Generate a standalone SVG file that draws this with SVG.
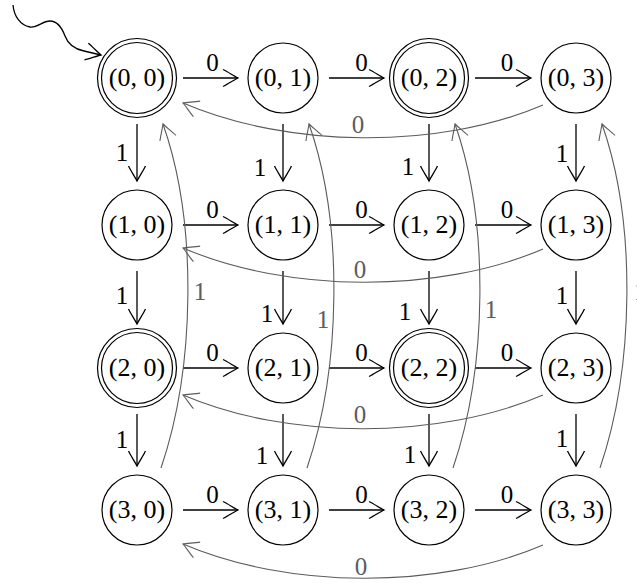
<svg xmlns="http://www.w3.org/2000/svg" width="637" height="583" viewBox="0 0 637 583">
<style>
.st{fill:none;stroke:#000;stroke-width:1.3}
.ring{fill:none;stroke:#000;stroke-width:1.2}
.nt{font-family:"Liberation Serif","Times New Roman",serif;font-size:26px;fill:#000;text-anchor:middle}
.lb{font-family:"Liberation Serif","Times New Roman",serif;font-size:25px;fill:#000;text-anchor:middle}
.gl{font-family:"Liberation Serif","Times New Roman",serif;font-size:25px;fill:#5c5c5c;text-anchor:middle}
.ed{fill:none;stroke:#000;stroke-width:1.3;marker-end:url(#ah)}
.gr{fill:none;stroke:#5c5c5c;stroke-width:1.1;marker-end:url(#ahg)}
</style>
<defs>
<marker id="ah" markerUnits="userSpaceOnUse" orient="auto" viewBox="-18 -10 20 20" refX="0" refY="0" markerWidth="20" markerHeight="20" overflow="visible">
<path d="M-15,-8.5 C-10,-6 -4,-2 0,0 C-4,2 -10,6 -15,8.5" fill="none" stroke="#000" stroke-width="1.3"/>
</marker>
<marker id="ahg" markerUnits="userSpaceOnUse" orient="auto" viewBox="-18 -10 20 20" refX="0" refY="0" markerWidth="20" markerHeight="20" overflow="visible">
<path d="M-15,-8.5 C-10,-6 -4,-2 0,0 C-4,2 -10,6 -15,8.5" fill="none" stroke="#5c5c5c" stroke-width="1.1"/>
</marker>
</defs>

<g id="nodes">
<g id="n00"><circle class="ring" cx="137" cy="78" r="39.5"/><circle class="ring" cx="137" cy="78" r="35.5"/><text class="nt" x="137" y="86">(0, 0)</text></g>
<g id="n01"><circle class="ring" cx="283" cy="78" r="35"/><text class="nt" x="283" y="86">(0, 1)</text></g>
<g id="n02"><circle class="ring" cx="429" cy="78" r="39.5"/><circle class="ring" cx="429" cy="78" r="35.5"/><text class="nt" x="429" y="86">(0, 2)</text></g>
<g id="n03"><circle class="ring" cx="576" cy="78" r="35"/><text class="nt" x="576" y="86">(0, 3)</text></g>

<g id="n10"><circle class="ring" cx="137" cy="225" r="35"/><text class="nt" x="137" y="233">(1, 0)</text></g>
<g id="n11"><circle class="ring" cx="283" cy="225" r="35"/><text class="nt" x="283" y="233">(1, 1)</text></g>
<g id="n12"><circle class="ring" cx="429" cy="225" r="35"/><text class="nt" x="429" y="233">(1, 2)</text></g>
<g id="n13"><circle class="ring" cx="576" cy="225" r="35"/><text class="nt" x="576" y="233">(1, 3)</text></g>

<g id="n20"><circle class="ring" cx="137" cy="368" r="39.5"/><circle class="ring" cx="137" cy="368" r="35.5"/><text class="nt" x="137" y="376">(2, 0)</text></g>
<g id="n21"><circle class="ring" cx="283" cy="368" r="35"/><text class="nt" x="283" y="376">(2, 1)</text></g>
<g id="n22"><circle class="ring" cx="429" cy="368" r="39.5"/><circle class="ring" cx="429" cy="368" r="35.5"/><text class="nt" x="429" y="376">(2, 2)</text></g>
<g id="n23"><circle class="ring" cx="576" cy="368" r="35"/><text class="nt" x="576" y="376">(2, 3)</text></g>

<g id="n30"><circle class="ring" cx="137" cy="510" r="35"/><text class="nt" x="137" y="518">(3, 0)</text></g>
<g id="n31"><circle class="ring" cx="283" cy="510" r="35"/><text class="nt" x="283" y="518">(3, 1)</text></g>
<g id="n32"><circle class="ring" cx="429" cy="510" r="35"/><text class="nt" x="429" y="518">(3, 2)</text></g>
<g id="n33"><circle class="ring" cx="576" cy="510" r="35"/><text class="nt" x="576" y="518">(3, 3)</text></g>
</g>

<g id="connectors">
<!-- start arrow -->
<path class="ed" d="M13,5 C14,16 20,25 30,27 C38,28 42,21 50,21 C58,21 62,28 65,36 C68,44 74,49 84,51 L101,55"/>

<!-- horizontal 0 edges -->
<path class="ed" d="M183,78 H238"/><path class="ed" d="M329,78 H384"/><path class="ed" d="M475,78 H531"/>
<path class="ed" d="M183,225 H238"/><path class="ed" d="M329,225 H384"/><path class="ed" d="M475,225 H531"/>
<path class="ed" d="M183,368 H238"/><path class="ed" d="M329,368 H384"/><path class="ed" d="M475,368 H531"/>
<path class="ed" d="M183,510 H238"/><path class="ed" d="M329,510 H384"/><path class="ed" d="M475,510 H531"/>
<g>
<text class="lb" x="212.5" y="71">0</text><text class="lb" x="361.5" y="71">0</text><text class="lb" x="507" y="71">0</text>
<text class="lb" x="212.5" y="218">0</text><text class="lb" x="361.5" y="218">0</text><text class="lb" x="507" y="218">0</text>
<text class="lb" x="212.5" y="361">0</text><text class="lb" x="361.5" y="361">0</text><text class="lb" x="507" y="361">0</text>
<text class="lb" x="212.5" y="503">0</text><text class="lb" x="361.5" y="503">0</text><text class="lb" x="507" y="503">0</text>
</g>

<!-- vertical 1 edges -->
<path class="ed" d="M137,124 V181"/><path class="ed" d="M137,271 V324"/><path class="ed" d="M137,414 V466"/>
<path class="ed" d="M283,124 V181"/><path class="ed" d="M283,271 V324"/><path class="ed" d="M283,414 V466"/>
<path class="ed" d="M429,124 V181"/><path class="ed" d="M429,271 V324"/><path class="ed" d="M429,414 V466"/>
<path class="ed" d="M576,124 V181"/><path class="ed" d="M576,271 V324"/><path class="ed" d="M576,414 V466"/>
<g>
<text class="lb" x="122" y="161">1</text><text class="lb" x="122" y="304">1</text><text class="lb" x="122" y="448">1</text>
<text class="lb" x="260" y="176">1</text><text class="lb" x="267" y="322">1</text><text class="lb" x="262" y="464">1</text>
<text class="lb" x="408" y="175">1</text><text class="lb" x="405" y="320">1</text><text class="lb" x="410" y="463">1</text>
<text class="lb" x="562" y="162">1</text><text class="lb" x="562" y="304">1</text><text class="lb" x="562" y="447">1</text>
</g>

<!-- gray back edges (1): bottom row to top row -->
<path class="gr" d="M161,468 C195,368 198,224 163,124"/>
<path class="gr" d="M307,468 C341,368 344,224 309,124"/>
<path class="gr" d="M453,468 C487,368 490,224 455,124"/>
<path class="gr" d="M600,468 C634,368 637,224 602,124"/>
<text class="gl" x="200" y="300">1</text>
<text class="gl" x="323" y="328">1</text>
<text class="gl" x="491" y="318">1</text>
<text class="gl" x="634" y="300" style="text-anchor:start">1</text>

<!-- gray back edges (0): last column to first column -->
<path class="gr" d="M543,105 C438,150 288,148 183,103"/>
<path class="gr" d="M543,249 C438,294 288,293 183,248"/>
<path class="gr" d="M543,395 C438,440 288,440 183,395"/>
<path class="gr" d="M543,545 C438,590 288,589 183,544"/>
<text class="gl" x="358" y="133">0</text>
<text class="gl" x="360" y="278">0</text>
<text class="gl" x="360" y="423">0</text>
<text class="gl" x="361" y="575">0</text>
</g>
</svg>
